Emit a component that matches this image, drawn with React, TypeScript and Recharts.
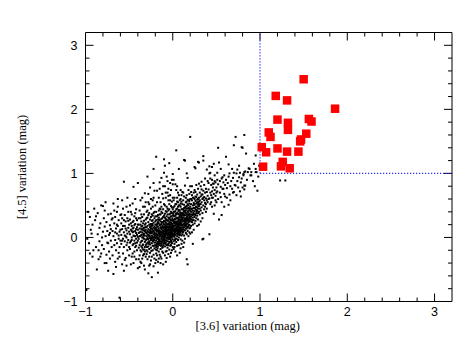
import { ScatterChart, Scatter, XAxis, YAxis, ReferenceLine, Label } from 'recharts'

type Pt = [number, number]

// faint cloud, far left edge (x < -0.5)
const farLeftDots: Pt[] = [
  [-0.99, -0.82], [-0.98, -0.02], [-0.97, 0.40], [-0.96, -0.09], [-0.95, 0.32], [-0.95, -0.25], [-0.93, 0.06], [-0.92, -0.30],
  [-0.94, 0.12], [-0.91, -0.20], [-0.90, 0.45], [-0.92, 0.20],
  [-0.89, 0.27], [-0.88, -0.15], [-0.87, -0.50], [-0.86, 0.05], [-0.86, 0.38], [-0.85, -0.34], [-0.84, 0.15], [-0.84, -0.06],
  [-0.83, -0.30], [-0.83, 0.22], [-0.82, -0.25], [-0.82, 0.50], [-0.81, 0.00], [-0.81, -0.12], [-0.80, 0.49], [-0.80, 0.09],
  [-0.88, 0.33], [-0.85, -0.20],
  [-0.79, 0.30], [-0.79, -0.18], [-0.78, 0.17], [-0.78, -0.40], [-0.77, 0.55], [-0.77, 0.02], [-0.76, -0.40], [-0.76, 0.24],
  [-0.75, -0.08], [-0.75, 0.10], [-0.74, -0.09], [-0.74, 0.36], [-0.73, -0.22], [-0.73, 0.04], [-0.72, -0.33], [-0.72, 0.19],
  [-0.71, 0.37], [-0.71, -0.05], [-0.71, 0.13], [-0.70, -0.15], [-0.70, 0.28], [-0.76, -0.27], [-0.78, 0.42], [-0.74, -0.52],
  [-0.72, 0.07],
  [-0.69, 0.10], [-0.69, -0.28], [-0.68, 0.53], [-0.68, -0.57], [-0.68, 0.02], [-0.67, 0.22], [-0.67, -0.12], [-0.66, 0.32],
  [-0.66, -0.04], [-0.66, -0.38], [-0.65, 0.14], [-0.65, -0.20], [-0.64, 0.06], [-0.64, 0.40], [-0.64, -0.09], [-0.63, -0.33],
  [-0.63, 0.48], [-0.63, 0.18], [-0.62, -0.02], [-0.62, -0.24], [-0.62, 0.27], [-0.61, 0.09], [-0.61, -0.94], [-0.61, -0.15],
  [-0.60, 0.35], [-0.60, -0.05], [-0.60, 0.12], [-0.67, 0.42], [-0.65, -0.46], [-0.69, 0.30], [-0.62, 0.03], [-0.64, 0.20],
  [-0.66, 0.08], [-0.61, -0.30], [-0.63, 0.60],
  [-0.59, 0.22], [-0.59, -0.10], [-0.59, 0.04], [-0.58, -0.42], [-0.58, 0.30], [-0.58, 0.13], [-0.57, -0.02], [-0.57, -0.25],
  [-0.57, 0.45], [-0.56, 0.87], [-0.56, 0.08], [-0.56, -0.15], [-0.55, 0.35], [-0.55, 0.18], [-0.55, -0.06], [-0.54, -0.32],
  [-0.54, 0.02], [-0.54, 0.25], [-0.53, 0.48], [-0.53, -0.44], [-0.53, 0.11], [-0.53, -0.12], [-0.52, 0.06], [-0.52, 0.30],
  [-0.52, -0.20], [-0.51, 0.15], [-0.51, -0.04], [-0.51, 0.40], [-0.50, -0.28], [-0.50, 0.09], [-0.50, 0.20], [-0.58, 0.58],
  [-0.56, -0.52], [-0.55, 0.03], [-0.54, 0.14], [-0.52, -0.08], [-0.57, 0.18], [-0.51, 0.26], [-0.59, 0.36], [-0.53, 0.00],
  [-0.50, -0.15], [-0.55, -0.35], [-0.56, 0.27], [-0.58, -0.05], [-0.52, 0.62],
]

// left half of the main clump (-0.5 .. -0.2)
const leftCoreDots: Pt[] = [
  [-0.49, 0.05], [-0.49, -0.18], [-0.49, 0.28], [-0.48, 0.12], [-0.48, -0.06], [-0.48, 0.40], [-0.47, -0.30], [-0.47, 0.18],
  [-0.47, 0.00], [-0.46, 0.53], [-0.46, -0.12], [-0.46, 0.08], [-0.46, 0.24], [-0.45, 0.79], [-0.45, -0.40], [-0.45, 0.03],
  [-0.45, 0.15], [-0.44, -0.22], [-0.44, 0.33], [-0.44, -0.05], [-0.43, 0.10], [-0.43, 0.60], [-0.43, -0.15], [-0.43, 0.21],
  [-0.42, -0.02], [-0.42, 0.07], [-0.42, -0.34], [-0.42, 0.44], [-0.41, 0.16], [-0.41, -0.08], [-0.41, 0.27], [-0.40, 0.01],
  [-0.40, -0.48], [-0.40, 0.12], [-0.40, 0.85], [-0.49, 0.50], [-0.48, -0.42], [-0.47, 0.36], [-0.46, -0.25], [-0.45, 0.09],
  [-0.44, 0.19], [-0.43, -0.09], [-0.42, 0.30], [-0.41, 0.04], [-0.44, 0.02], [-0.47, -0.04], [-0.48, 0.22], [-0.45, -0.10],
  [-0.42, 0.13], [-0.40, 0.20], [-0.41, -0.20], [-0.43, 0.38], [-0.46, 0.14], [-0.44, -0.30], [-0.49, -0.08], [-0.45, 0.26],
  [-0.42, -0.13], [-0.47, 0.10], [-0.40, -0.05], [-0.43, 0.02],
  [-0.39, 0.07], [-0.39, -0.16], [-0.39, 0.30], [-0.39, -0.02], [-0.38, 0.14], [-0.38, -0.28], [-0.38, 0.02], [-0.38, 0.42],
  [-0.37, -0.08], [-0.37, 0.20], [-0.37, -0.38], [-0.37, 0.09], [-0.37, 0.58], [-0.36, -0.14], [-0.36, 0.04], [-0.36, 0.25],
  [-0.36, -0.22], [-0.36, 0.13], [-0.35, 0.00], [-0.35, -0.05], [-0.35, 0.32], [-0.35, -0.33], [-0.35, 0.18], [-0.35, 0.08],
  [-0.34, -0.11], [-0.34, 0.05], [-0.34, 0.48], [-0.34, -0.19], [-0.34, 0.22], [-0.33, 0.11], [-0.33, -0.02], [-0.33, -0.26],
  [-0.33, 0.36], [-0.33, 0.15], [-0.32, -0.07], [-0.32, 0.69], [-0.32, 0.48], [-0.32, 0.03], [-0.32, -0.15], [-0.32, 0.20],
  [-0.31, 0.08], [-0.31, -0.04], [-0.31, -0.30], [-0.31, 0.28], [-0.31, 0.12], [-0.30, -0.10], [-0.30, 0.02], [-0.30, 0.40],
  [-0.30, -0.20], [-0.30, 0.16], [-0.39, 0.20], [-0.38, -0.12], [-0.37, 0.30], [-0.36, -0.06], [-0.35, 0.12], [-0.34, 0.00],
  [-0.33, 0.06], [-0.32, -0.22], [-0.31, 0.22], [-0.30, 0.07], [-0.38, 0.08], [-0.36, 0.17], [-0.34, -0.28], [-0.33, 0.26],
  [-0.31, -0.12], [-0.35, -0.16], [-0.37, -0.20], [-0.39, -0.34], [-0.36, 0.36], [-0.32, 0.10], [-0.30, -0.26], [-0.34, 0.14],
  [-0.38, -0.46], [-0.31, 0.55], [-0.33, -0.44], [-0.35, 0.62], [-0.37, 0.02], [-0.30, 0.30], [-0.32, -0.50], [-0.36, -0.40],
  [-0.29, 0.05], [-0.29, -0.08], [-0.29, 0.18], [-0.29, -0.22], [-0.29, 0.31], [-0.29, 0.00], [-0.29, 0.10],
  [-0.28, -0.14], [-0.28, 0.04], [-0.28, 0.24], [-0.28, -0.03], [-0.28, -0.56], [-0.28, 0.13], [-0.28, 0.55],
  [-0.27, 0.08], [-0.27, -0.18], [-0.27, -0.06], [-0.27, 0.20], [-0.27, 0.02], [-0.27, 0.38], [-0.27, -0.30],
  [-0.26, 0.11], [-0.26, -0.01], [-0.26, -0.11], [-0.26, 0.28], [-0.26, 0.06], [-0.26, -0.24], [-0.26, 0.16],
  [-0.25, -0.04], [-0.25, 0.09], [-0.25, 0.21], [-0.25, -0.16], [-0.25, 0.00], [-0.25, 0.45], [-0.25, -0.36],
  [-0.24, 0.03], [-0.24, -0.62], [-0.24, 0.14], [-0.24, -0.09], [-0.24, 0.26], [-0.24, -0.02], [-0.24, 0.07],
  [-0.23, -0.20], [-0.23, 0.12], [-0.23, 0.01], [-0.23, 0.34], [-0.23, -0.06], [-0.23, 0.19], [-0.23, -0.13],
  [-0.22, 0.05], [-0.22, -0.03], [-0.22, 0.23], [-0.22, 0.10], [-0.22, -0.27], [-0.22, 0.62], [-0.22, 0.15],
  [-0.21, -0.08], [-0.21, 0.02], [-0.21, 0.17], [-0.21, -0.17], [-0.21, 0.30], [-0.21, 0.08], [-0.21, 0.73],
  [-0.20, -0.01], [-0.20, 0.12], [-0.20, -0.12], [-0.20, 0.25], [-0.20, 0.04], [-0.20, -0.40], [-0.20, 0.20],
  [-0.29, 0.42], [-0.27, 0.52], [-0.26, -0.42], [-0.24, 0.36], [-0.23, 0.48], [-0.22, -0.45], [-0.21, 0.40],
  [-0.28, 0.68], [-0.25, 0.60], [-0.22, 0.85], [-0.29, 0.95], [-0.26, 0.78], [-0.21, -0.33], [-0.20, 0.50],
  [-0.28, 0.35], [-0.24, -0.30], [-0.27, -0.44], [-0.23, 0.58], [-0.25, 0.32], [-0.22, 0.38], [-0.29, -0.34], [-0.20, 0.33],
  [-0.26, 0.20], [-0.24, 0.18], [-0.28, -0.08], [-0.21, -0.04], [-0.23, 0.27], [-0.25, 0.14], [-0.22, 1.07],
]

// densest part of the clump (-0.2 .. 0.1)
const centreDots: Pt[] = [
  [-0.19, 0.06], [-0.19, -0.05], [-0.19, 0.15], [-0.19, -0.15], [-0.19, 0.27], [-0.19, 0.01], [-0.19, -0.25], [-0.19, 1.26],
  [-0.18, 0.09], [-0.18, -0.02], [-0.18, 0.20], [-0.18, -0.10], [-0.18, 0.03], [-0.18, 0.33], [-0.18, -0.20], [-0.18, 0.12],
  [-0.17, -0.07], [-0.17, 0.04], [-0.17, 0.17], [-0.17, -0.55], [-0.17, 0.24], [-0.17, -0.01], [-0.17, 0.10], [-0.17, -0.14],
  [-0.16, 0.07], [-0.16, -0.04], [-0.16, 0.22], [-0.16, 0.14], [-0.16, -0.22], [-0.16, 0.00], [-0.16, 0.42], [-0.16, -0.09],
  [-0.15, 0.02], [-0.15, 0.11], [-0.15, -0.12], [-0.15, 0.76], [-0.15, 0.28], [-0.15, -0.03], [-0.15, 0.19], [-0.15, 0.06],
  [-0.14, -0.06], [-0.14, 0.09], [-0.14, 0.16], [-0.14, -0.18], [-0.14, 0.03], [-0.14, 0.36], [-0.14, -0.30], [-0.14, 0.25],
  [-0.13, 0.05], [-0.13, -0.02], [-0.13, 0.13], [-0.13, -0.10], [-0.13, 0.21], [-0.13, 0.00], [-0.13, 0.48], [-0.13, 0.08],
  [-0.12, -0.08], [-0.12, 0.11], [-0.12, 0.03], [-0.12, 0.18], [-0.12, -0.16], [-0.12, 0.30], [-0.12, -0.03], [-0.12, 0.07],
  [-0.11, 0.01], [-0.11, 0.14], [-0.11, -0.12], [-0.11, 0.24], [-0.11, 0.61], [-0.11, -0.05], [-0.11, 0.09], [-0.11, -0.24],
  [-0.10, 0.04], [-0.10, -0.01], [-0.10, 0.17], [-0.10, 0.10], [-0.10, 1.22], [-0.10, -0.09], [-0.10, 0.34], [-0.10, 1.01],
  [-0.19, 0.40], [-0.18, 0.55], [-0.17, 0.35], [-0.16, 0.62], [-0.15, 0.45], [-0.14, 0.55], [-0.13, 0.40], [-0.12, 0.68],
  [-0.11, 0.44], [-0.10, 0.52], [-0.19, -0.35], [-0.17, -0.38], [-0.15, -0.27], [-0.13, -0.33], [-0.11, -0.42], [-0.18, 0.73],
  [-0.16, 0.31], [-0.14, 0.44], [-0.12, 0.38], [-0.10, 0.26], [-0.19, 0.20], [-0.17, 0.28], [-0.15, 0.36], [-0.13, 0.29],
  [-0.11, 0.32], [-0.18, -0.28], [-0.16, -0.33], [-0.14, -0.40], [-0.12, -0.22], [-0.15, 0.86], [-0.13, 0.93], [-0.11, 0.80],
  [-0.09, 0.06], [-0.09, -0.04], [-0.09, 0.16], [-0.09, 0.25], [-0.09, -0.14], [-0.09, 0.02], [-0.09, 0.10], [-0.09, 0.37],
  [-0.08, -0.38], [-0.08, 0.08], [-0.08, 0.00], [-0.08, 0.19], [-0.08, -0.08], [-0.08, 0.13], [-0.08, 0.29], [-0.08, 0.04],
  [-0.07, 0.11], [-0.07, -0.02], [-0.07, 0.22], [-0.07, -0.12], [-0.07, 0.06], [-0.07, 0.33], [-0.07, -0.21], [-0.07, 0.15],
  [-0.06, 0.03], [-0.06, 0.17], [-0.06, -0.06], [-0.06, 0.09], [-0.06, 0.26], [-0.06, -0.16], [-0.06, 0.45], [-0.06, 0.00],
  [-0.05, 0.12], [-0.05, 0.05], [-0.05, -0.03], [-0.05, 0.21], [-0.05, 0.31], [-0.05, -0.10], [-0.05, 0.08], [-0.05, 0.58],
  [-0.04, 0.01], [-0.04, 0.14], [-0.04, -0.07], [-0.04, 0.24], [-0.04, 0.07], [-0.04, -0.19], [-0.04, 0.36], [-0.04, 0.18],
  [-0.03, 0.10], [-0.03, -0.01], [-0.03, 0.04], [-0.03, 0.20], [-0.03, -0.13], [-0.03, 0.28], [-0.03, 0.58], [-0.03, 0.15],
  [-0.02, 0.06], [-0.02, -0.05], [-0.02, 0.13], [-0.02, 0.23], [-0.02, 0.02], [-0.02, 0.40], [-0.02, -0.24], [-0.02, 0.09],
  [-0.01, 0.16], [-0.01, 0.00], [-0.01, 0.08], [-0.01, 0.27], [-0.01, -0.09], [-0.01, 0.90], [-0.01, 0.19], [-0.01, 0.04],
  [0.00, 0.11], [0.00, -0.03], [0.00, 0.21], [0.00, 0.06], [0.00, 0.34], [0.00, 0.83], [0.00, -0.15], [0.00, 0.99],
  [-0.09, 0.50], [-0.08, 0.62], [-0.07, 0.48], [-0.06, 0.70], [-0.05, 0.42], [-0.04, 0.52], [-0.03, 0.66], [-0.02, 0.49],
  [-0.01, 0.56], [0.00, 0.44], [-0.09, -0.28], [-0.07, -0.32], [-0.05, -0.26], [-0.03, -0.30], [-0.01, -0.20], [0.00, 0.62],
  [-0.08, 0.41], [-0.06, 0.36], [-0.04, 0.44], [-0.02, 0.33], [-0.09, 0.80], [-0.07, 0.95], [-0.05, 0.76], [-0.03, 0.85],
  [-0.08, -0.22], [-0.06, -0.11], [-0.04, -0.02], [-0.02, -0.12], [0.00, 0.27], [-0.01, 0.38], [-0.03, 0.37], [-0.05, 0.15],
  [-0.07, 0.40], [-0.09, 0.31], [-0.08, 0.23], [-0.06, 0.12], [-0.04, 0.30], [-0.02, 0.17], [0.00, 0.15], [-0.01, 0.47],
  [-0.09, 1.12], [-0.04, 1.16], [-0.06, 0.88], [-0.02, 0.74], [-0.08, 0.70], [-0.05, 0.65],
  [0.01, 0.05], [0.01, 0.16], [0.01, -0.06], [0.01, 0.27], [0.01, 0.10], [0.01, 0.40], [0.01, -0.18], [0.01, 0.58],
  [0.02, 0.12], [0.02, 0.01], [0.02, 0.22], [0.02, 0.07], [0.02, 0.33], [0.02, -0.10], [0.02, 0.18], [0.02, 0.49],
  [0.03, 0.09], [0.03, 0.19], [0.03, -0.02], [0.03, 0.28], [0.03, 0.14], [0.03, 0.04], [0.03, 0.41], [0.03, -0.22],
  [0.04, 0.15], [0.04, 0.06], [0.04, 0.24], [0.04, -0.07], [0.04, 0.36], [0.04, 0.11], [0.04, 0.74], [0.04, 0.52],
  [0.05, 0.10], [0.05, 0.20], [0.05, 0.02], [0.05, 0.30], [0.05, -0.13], [0.05, 0.16], [0.05, 0.45], [0.05, 0.62],
  [0.06, 0.13], [0.06, 0.25], [0.06, 0.05], [0.06, 0.37], [0.06, 0.18], [0.06, -0.04], [0.06, 0.55], [0.06, 0.08],
  [0.07, 0.17], [0.07, 0.09], [0.07, 0.28], [0.07, 0.00], [0.07, 0.21], [0.07, 0.43], [0.07, 1.07], [0.07, 0.66],
  [0.08, 0.12], [0.08, 0.23], [0.08, 0.06], [0.08, 0.34], [0.08, -0.24], [0.08, 0.16], [0.08, 0.50], [0.08, 0.04],
  [0.09, 0.19], [0.09, 0.08], [0.09, 0.27], [0.09, -0.03], [0.09, 0.39], [0.09, 0.14], [0.09, 0.60], [0.09, 0.31],
  [0.10, 0.15], [0.10, 0.22], [0.10, 0.03], [0.10, 0.44], [0.10, 0.10], [0.10, 0.33], [0.10, 0.56], [0.10, -0.10],
  [0.01, 0.34], [0.02, 0.28], [0.03, 0.34], [0.04, 0.30], [0.05, 0.38], [0.06, 0.30], [0.07, 0.36], [0.08, 0.28],
  [0.09, 0.48], [0.10, 0.38], [0.02, 0.62], [0.04, 0.44], [0.06, 0.70], [0.08, 0.42], [0.10, 0.66], [0.03, 0.83],
  [0.01, 0.90], [0.05, 0.80], [0.09, 0.74], [0.04, 1.36], [0.02, -0.15], [0.05, -0.28], [0.07, -0.12], [0.09, -0.17],
  [0.03, 0.52], [0.05, 0.56], [0.07, 0.50], [0.09, 0.53], [0.01, 0.47], [0.02, 0.40], [0.06, 0.48], [0.08, 0.58],
  [0.04, 0.21], [0.06, 0.22], [0.08, 0.20], [0.10, 0.27], [0.03, 0.24], [0.07, 0.12], [0.09, 0.24], [0.05, 0.25],
]

// extra points filling the solid black centre of the clump
const coreFillDots: Pt[] = [
  [-0.345, -0.12], [-0.335, 0.03], [-0.325, -0.19], [-0.315, 0.16], [-0.305, -0.03],
  [-0.295, -0.15], [-0.285, 0.09], [-0.275, -0.10], [-0.265, 0.02], [-0.255, 0.17], [-0.245, -0.21], [-0.235, -0.01],
  [-0.225, 0.09], [-0.215, -0.13], [-0.205, 0.14],
  [-0.195, -0.08], [-0.185, 0.05], [-0.175, -0.17], [-0.165, 0.11], [-0.155, -0.06], [-0.145, 0.20], [-0.135, -0.13],
  [-0.125, 0.01], [-0.115, 0.16], [-0.105, -0.03],
  [-0.195, 0.11], [-0.185, -0.12], [-0.175, 0.22], [-0.165, -0.02], [-0.155, 0.09], [-0.145, -0.09], [-0.135, 0.15],
  [-0.125, -0.06], [-0.115, 0.06], [-0.105, 0.21],
  [-0.095, 0.01], [-0.085, 0.14], [-0.075, -0.05], [-0.065, 0.20], [-0.055, 0.00], [-0.045, 0.11], [-0.035, -0.08],
  [-0.025, 0.26], [-0.015, 0.02], [-0.005, 0.13],
  [-0.095, 0.20], [-0.085, -0.10], [-0.075, 0.09], [-0.065, -0.01], [-0.055, 0.27], [-0.045, 0.04], [-0.035, 0.17],
  [-0.025, -0.03], [-0.015, 0.22], [-0.005, 0.08],
  [-0.095, -0.07], [-0.085, 0.05], [-0.075, 0.27], [-0.065, 0.06], [-0.055, -0.12], [-0.045, 0.21], [-0.035, 0.07],
  [-0.025, 0.12], [-0.015, -0.07], [-0.005, 0.30],
  [0.005, 0.18], [0.015, 0.04], [0.025, 0.29], [0.035, 0.12], [0.045, -0.02], [0.055, 0.22], [0.065, 0.10],
  [0.075, 0.32], [0.085, 0.09], [0.095, 0.21],
  [0.005, 0.02], [0.015, 0.24], [0.025, 0.09], [0.035, 0.37], [0.045, 0.17], [0.055, 0.07], [0.065, 0.28],
  [0.075, 0.15], [0.085, 0.38], [0.095, 0.12],
  [0.005, 0.37], [0.015, 0.13], [0.025, -0.04], [0.035, 0.21], [0.045, 0.31], [0.055, 0.13], [0.065, 0.41],
  [0.075, 0.04], [0.085, 0.25], [0.095, 0.35],
  [0.105, 0.19], [0.115, 0.35], [0.125, 0.12], [0.135, 0.26], [0.145, 0.39], [0.155, 0.21], [0.165, 0.30],
  [0.175, 0.41], [0.185, 0.19], [0.195, 0.33],
  [0.105, 0.29], [0.115, 0.08], [0.125, 0.41], [0.135, 0.19], [0.145, 0.27], [0.155, 0.45], [0.165, 0.17],
  [0.175, 0.36], [0.185, 0.29], [0.195, 0.45],
  [0.205, 0.30], [0.215, 0.44], [0.225, 0.27], [0.235, 0.39], [0.245, 0.51], [0.255, 0.36], [0.265, 0.48], [0.275, 0.41],
  [-0.245, 0.08], [-0.225, -0.05], [-0.205, 0.06], [-0.185, 0.16], [-0.165, -0.11], [-0.145, 0.04], [-0.125, 0.24],
  [-0.105, 0.07], [-0.285, -0.02], [-0.265, -0.08], [-0.255, 0.11], [-0.235, 0.21], [-0.215, 0.00], [-0.195, -0.19],
  [-0.175, 0.00], [-0.155, 0.27], [-0.135, 0.08], [-0.115, -0.15], [-0.095, 0.12], [-0.075, 0.17], [-0.055, 0.16],
  [-0.035, 0.31], [-0.015, 0.11], [0.005, 0.25],
]

// right half of the clump (0.1 .. 0.4)
const rightCoreDots: Pt[] = [
  [0.11, 0.12], [0.11, 0.25], [0.11, 0.05], [0.11, 0.38], [0.11, 0.71], [0.11, 0.18], [0.11, 0.52], [0.11, -0.05],
  [0.12, 0.20], [0.12, 0.31], [0.12, 0.09], [0.12, 0.44], [0.12, 0.15], [0.12, 0.58], [0.12, 0.26], [0.12, -0.15],
  [0.13, 0.16], [0.13, 0.28], [0.13, 0.03], [0.13, 0.40], [0.13, 0.22], [0.13, 0.51], [0.13, 0.34], [0.13, 0.64],
  [0.14, 0.23], [0.14, 0.11], [0.14, 0.36], [0.14, 0.81], [0.14, 0.47], [0.14, 0.19], [0.14, 0.30], [0.14, 1.20],
  [0.15, 0.18], [0.15, 0.29], [0.15, 0.07], [0.15, 0.42], [0.15, 0.55], [0.15, 0.24], [0.15, 0.35], [0.15, 0.62],
  [0.16, 0.26], [0.16, 0.14], [0.16, 0.38], [0.16, -0.34], [0.16, 0.49], [0.16, 0.21], [0.16, 1.00], [0.16, 0.32],
  [0.17, 0.22], [0.17, 0.33], [0.17, 0.10], [0.17, 0.45], [0.17, -0.42], [0.17, 0.93], [0.17, 0.59], [0.17, 0.27],
  [0.18, 0.28], [0.18, 0.17], [0.18, 0.40], [0.18, 0.58], [0.18, 0.02], [0.18, 0.50], [0.18, 0.24], [0.18, 0.35],
  [0.19, 0.31], [0.19, 0.20], [0.19, 0.44], [0.19, 0.08], [0.19, 0.68], [0.19, 0.37], [0.19, 0.53], [0.19, 0.26],
  [0.20, 0.25], [0.20, 0.36], [0.20, 0.06], [0.20, 0.48], [0.20, 0.80], [0.20, 1.57], [0.20, 0.15], [0.20, 0.42],
  [0.11, 0.31], [0.13, 0.46], [0.15, 0.48], [0.17, 0.52], [0.19, 0.57], [0.12, 0.37], [0.14, 0.42], [0.16, 0.56],
  [0.18, 0.46], [0.20, 0.60], [0.12, 0.70], [0.16, 0.66], [0.18, 0.74], [0.14, -0.02], [0.16, 0.05], [0.13, -0.08],
  [0.11, 0.44], [0.15, 0.14], [0.17, 0.16], [0.19, 0.14],
  [0.21, 0.28], [0.21, 0.40], [0.21, 0.71], [0.21, 0.18], [0.21, 0.52], [0.21, 0.33], [0.22, 0.45], [0.22, 0.24],
  [0.22, 0.80], [0.22, 0.36], [0.22, 0.58], [0.22, 0.08], [0.23, 0.31], [0.23, -0.10], [0.23, 0.50], [0.23, 0.42],
  [0.23, 0.62], [0.23, 0.20], [0.24, 0.37], [0.24, 0.54], [0.24, 0.27], [0.24, 0.70], [0.24, 0.46], [0.24, 0.12],
  [0.25, 0.41], [0.25, 0.60], [0.25, 0.32], [0.25, 0.52], [0.25, 0.22], [0.25, 0.74], [0.26, 0.71], [0.26, 0.44],
  [0.26, 0.35], [0.26, 0.57], [0.26, 1.08], [0.26, 0.26], [0.27, 0.48], [0.27, 0.38], [0.27, 0.63], [0.27, 0.30],
  [0.27, 0.82], [0.27, 0.53], [0.28, 0.55], [0.28, 0.42], [0.28, 0.34], [0.28, 0.67], [0.28, 0.18], [0.28, 0.47],
  [0.29, 0.45], [0.29, 0.60], [0.29, 0.38], [0.29, 0.76], [0.29, 0.51], [0.29, 0.28], [0.30, 0.20], [0.30, 0.84],
  [0.30, 0.49], [0.30, 0.62], [0.30, 1.17], [0.30, 0.40], [0.30, 0.56], [0.22, 0.66], [0.24, 0.62], [0.26, 0.64],
  [0.28, 0.59], [0.21, 0.60], [0.23, 0.35], [0.25, 0.46], [0.27, 0.43], [0.29, 0.54],
  [0.31, 0.45], [0.31, 0.58], [0.31, 0.70], [0.31, 0.36], [0.32, 0.52], [0.32, 0.64], [0.32, 0.42], [0.32, 0.80],
  [0.33, 0.87], [0.33, 0.55], [0.33, 0.47], [0.33, 0.67], [0.34, 0.67], [0.34, 0.60], [0.34, 0.38], [0.34, -0.03],
  [0.35, 1.27], [0.35, 1.20], [0.35, 0.50], [0.35, -0.02], [0.35, 0.73], [0.36, 0.58], [0.36, 0.44], [0.36, 0.82],
  [0.36, 0.63], [0.37, 0.54], [0.37, 0.70], [0.37, 0.48], [0.38, 0.61], [0.38, 0.76], [0.38, 0.52], [0.39, 0.71],
  [0.39, 1.06], [0.39, 0.58], [0.39, 0.45], [0.40, 0.65], [0.40, 0.88], [0.40, 0.55], [0.31, 0.52], [0.33, 0.75],
  [0.35, 0.62], [0.37, 0.92], [0.38, 0.40], [0.34, 0.30], [0.32, 0.25], [0.25, 1.10], [0.29, 1.18], [0.13, 1.21],
]

// sparse tail towards the variable stars (x > 0.4)
const upperTailDots: Pt[] = [
  [0.41, 0.60], [0.41, 0.75], [0.42, 0.61], [0.42, 0.05], [0.42, 1.00], [0.42, 1.11], [0.43, 0.92], [0.43, 0.70],
  [0.43, 1.01], [0.44, 0.55], [0.44, 0.82], [0.44, 0.66], [0.45, 0.72], [0.45, 0.90], [0.45, 0.48], [0.46, 0.84],
  [0.46, 0.62], [0.46, 0.78], [0.47, 0.37], [0.47, 0.84], [0.47, 1.15], [0.47, 0.68], [0.48, 0.50], [0.48, 0.97],
  [0.48, 0.74], [0.49, 0.65], [0.49, 0.86], [0.49, 0.58], [0.50, 0.78], [0.50, 0.70], [0.41, 0.85], [0.43, 0.52],
  [0.45, 0.62], [0.48, 0.88], [0.50, 0.55], [0.45, 1.10],
  [0.51, 1.01], [0.51, 0.72], [0.52, 0.83], [0.52, 0.60], [0.53, 0.28], [0.53, 1.17], [0.52, 1.40], [0.54, 0.88],
  [0.54, 0.70], [0.55, 0.79], [0.55, 1.07], [0.55, 0.63], [0.56, 0.92], [0.56, 0.35], [0.57, 0.94], [0.57, 0.76],
  [0.58, 0.76], [0.58, 0.86], [0.59, 0.68], [0.59, 0.97], [0.60, 0.64], [0.60, 0.82], [0.51, 0.90], [0.56, 0.55],
  [0.59, 0.48],
  [0.61, 1.26], [0.61, 0.90], [0.62, 0.77], [0.62, 0.62], [0.64, 1.14], [0.63, 0.85], [0.64, 0.51], [0.64, 0.95],
  [0.65, 0.67], [0.65, 1.00], [0.66, 0.80], [0.66, 0.58], [0.67, 0.88], [0.68, 1.07], [0.68, 0.76], [0.69, 0.70],
  [0.70, 0.71], [0.70, 1.01], [0.70, 1.44], [0.69, 0.93],
  [0.71, 0.82], [0.72, 0.81], [0.72, 1.57], [0.73, 1.00], [0.73, 0.66], [0.74, 1.06], [0.74, 0.88], [0.75, 0.78],
  [0.76, 0.94], [0.77, 1.01], [0.77, 0.72], [0.78, 0.86], [0.79, 1.41], [0.79, 0.92], [0.80, 1.40], [0.80, 0.78],
  [0.76, 1.12], [0.78, 0.64],
  [0.81, 0.97], [0.81, 0.99], [0.82, 1.60], [0.82, 1.02], [0.82, 0.81], [0.82, 0.75], [0.83, 0.81], [0.83, 1.03],
  [0.84, 1.31], [0.85, 0.90], [0.86, 1.02], [0.87, 1.08], [0.88, 1.07], [0.89, 0.97], [0.90, 1.02], [0.90, 0.97],
  [0.92, 0.88], [0.93, 1.15], [0.95, 1.28], [0.95, 1.07], [0.95, 1.02], [0.96, 1.02], [0.97, 0.73], [0.98, 0.95],
  [0.94, 0.80], [0.99, 1.12], [1.23, 0.89], [1.29, 0.89],
]

// red squares: the strongly variable sources
const variableStars: Pt[] = [
  [1.50, 2.47], [1.18, 2.21], [1.31, 2.14], [1.86, 2.01], [1.20, 1.84], [1.56, 1.85], [1.59, 1.81], [1.32, 1.79],
  [1.32, 1.68], [1.10, 1.64], [1.12, 1.57], [1.53, 1.62], [1.47, 1.53], [1.46, 1.50], [1.02, 1.41], [1.07, 1.33],
  [1.20, 1.39], [1.31, 1.34], [1.44, 1.34], [1.26, 1.18], [1.24, 1.11], [1.34, 1.08], [1.035, 1.105],
]

const axisTicks = [-1, 0, 1, 2, 3]

const toRows = (pts: Pt[]) => pts.map(([x, y]) => ({ x, y }))

const blackDots = toRows([
  ...farLeftDots, ...leftCoreDots, ...centreDots, ...coreFillDots, ...rightCoreDots, ...upperTailDots,
])
const redSquares = toRows(variableStars)

function Dot(props: any) {
  const { cx, cy } = props
  return <rect x={cx - 1} y={cy - 1} width={2} height={2} fill="#000" />
}

function Square(props: any) {
  const { cx, cy } = props
  return <rect x={cx - 4.25} y={cy - 4.25} width={8.5} height={8.5} fill="#ff0000" />
}

function fmtTick(v: number) {
  return v < 0 ? `\u2212${Math.abs(v)}` : `${v}`
}

// pgplot style inward ticks on all four sides, minor every 0.2
function frameTicks() {
  const out = []
  for (let i = 1; i < 21; i++) {
    const v = Math.round((-1 + i * 0.2) * 10) / 10
    const major = Number.isInteger(v)
    const ly = major ? 0.125 : 0.0625
    const lx = major ? 0.092 : 0.046
    out.push(
      <ReferenceLine key={`b${i}`} segment={[{ x: v, y: -1 }, { x: v, y: -1 + ly }]} stroke="#000" ifOverflow="visible" />,
      <ReferenceLine key={`t${i}`} segment={[{ x: v, y: 3.2 }, { x: v, y: 3.2 - ly }]} stroke="#000" ifOverflow="visible" />,
      <ReferenceLine key={`l${i}`} segment={[{ x: -1, y: v }, { x: -1 + lx, y: v }]} stroke="#000" ifOverflow="visible" />,
      <ReferenceLine key={`r${i}`} segment={[{ x: 3.2, y: v }, { x: 3.2 - lx, y: v }]} stroke="#000" ifOverflow="visible" />,
    )
  }
  return out
}

const tickStyle = { fontSize: 12.5, fill: '#000', fontFamily: 'Liberation Sans, Arial, sans-serif' }
const titleStyle = { fontSize: 12.5, fill: '#000', fontFamily: 'Liberation Serif, serif' }

export default function App() {
  return (
    <div style={{ position: 'absolute', left: 0, top: 0, width: 466, height: 360, background: '#fff' }}>
      <ScatterChart width={466} height={360} margin={{ top: 32.5, right: 14, bottom: 28.5, left: 35.5 }}>
        <XAxis
          type="number"
          dataKey="x"
          domain={[-1, 3.2]}
          ticks={axisTicks}
          allowDataOverflow
          height={30}
          tickLine={false}
          tickMargin={0}
          tick={tickStyle}
          tickFormatter={fmtTick}
          axisLine={{ stroke: '#000' }}
        >
          <Label value="[3.6] variation (mag)" position="insideBottom" offset={2} dx={-21} style={titleStyle} />
        </XAxis>
        <YAxis
          type="number"
          dataKey="y"
          domain={[-1, 3.2]}
          ticks={axisTicks}
          allowDataOverflow
          width={50}
          tickLine={false}
          tickMargin={2}
          tick={tickStyle}
          tickFormatter={fmtTick}
          axisLine={{ stroke: '#000' }}
        >
          <Label value="[4.5] variation (mag)" angle={-90} position="left" offset={13.5} style={{ ...titleStyle, textAnchor: 'middle' }} />
        </YAxis>
        <ReferenceLine y={3.2} stroke="#000" ifOverflow="visible" />
        <ReferenceLine x={3.2} stroke="#000" ifOverflow="visible" />
        {frameTicks()}
        <ReferenceLine segment={[{ x: 1, y: 1 }, { x: 1, y: 3.2 }]} stroke="#2a2aff" strokeWidth={1.2} strokeDasharray="1.2 1.8" ifOverflow="visible" />
        <ReferenceLine segment={[{ x: 1, y: 1 }, { x: 3.2, y: 1 }]} stroke="#2a2aff" strokeWidth={1.2} strokeDasharray="1.2 1.8" ifOverflow="visible" />
        <Scatter data={blackDots} shape={Dot} isAnimationActive={false} />
        <Scatter data={redSquares} shape={Square} isAnimationActive={false} />
      </ScatterChart>
    </div>
  )
}
